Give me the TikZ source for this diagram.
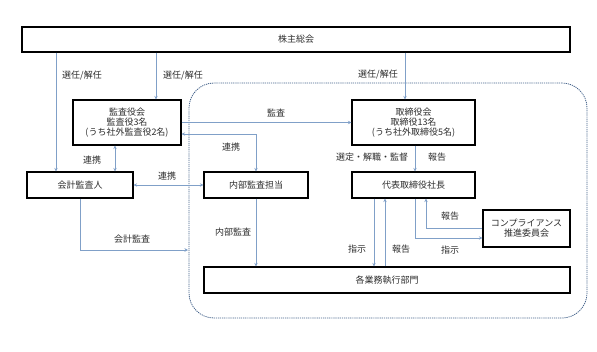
\documentclass[tikz,border=0pt]{standalone}
\usepackage{fontspec}
\setmainfont{Noto Sans CJK JP}
\usetikzlibrary{positioning,arrows.meta}
\definecolor{linkblue}{RGB}{128,160,200}
\definecolor{zoneblue}{RGB}{70,100,140}
\definecolor{inkgray}{RGB}{45,45,45}
\tikzset{
  orgbox/.style={rectangle,draw=black,line width=1.1pt,fill=white,align=center,inner sep=0pt,text=inkgray,font=\fontsize{9}{10}\selectfont},
  zone/.style={rectangle,rounded corners=25pt,draw=zoneblue,line width=0.8pt,dash pattern=on 1.2pt off 0.9pt,minimum width=398pt,minimum height=235pt},
  link/.style={-{Stealth[length=3.5pt,width=3.5pt]},draw=linkblue,line width=0.75pt},
  mutual/.style={{Stealth[length=3.5pt,width=3.5pt]}-{Stealth[length=3.5pt,width=3.5pt]},draw=linkblue,line width=0.75pt},
  lbl/.style={inner sep=1pt,text=inkgray,font=\fontsize{9}{10}\selectfont}
}
\begin{document}
\begin{tikzpicture}[x=1pt,y=-1pt]
  \path[fill=white] (0,0) rectangle (597,351);
  \useasboundingbox (0,0) rectangle (597,351);
  \node[zone] (zone) at (388,200.5) {};
  \node[orgbox,minimum width=548pt,minimum height=25pt] (soukai) at (296,39.5) {株主総会};
  \node[orgbox,minimum width=108pt,minimum height=45pt] (kansayaku) at (127,122.5) {監査役会\\監査役3名\\(うち社外監査役2名)};
  \node[orgbox,minimum width=106pt,minimum height=26pt] (kaikei) at (80,185) {会計監査人};
  \node[orgbox,minimum width=104pt,minimum height=26pt] (naibu) at (256,185) {内部監査担当};
  \node[orgbox,minimum width=123pt,minimum height=45pt] (torishimari) at (413.5,122.5) {取締役会\\取締役13名\\(うち社外取締役5名)};
  \node[orgbox,minimum width=123pt,minimum height=26pt] (shacho) at (413.5,185) {代表取締役社長};
  \node[orgbox,minimum width=87pt,minimum height=37pt] (comp) at (526.5,228.5) {コンプライアンス\\推進委員会};
  \node[orgbox,minimum width=366pt,minimum height=26pt] (bumon) at (387,280) {各業務執行部門};
  \coordinate (audit) at (188,250);
  \draw[link] ([xshift=-24pt]kaikei.north |- soukai.south) -- ([xshift=-24pt]kaikei.north);
  \draw[link] ([xshift=29pt]kansayaku.north |- soukai.south) -- ([xshift=29pt]kansayaku.north);
  \draw[link] ([xshift=-8.5pt]torishimari.north |- soukai.south) -- ([xshift=-8.5pt]torishimari.north);
  \draw[link] (kansayaku.east) -- (torishimari.west);
  \draw[mutual] ([yshift=-11.5pt]kansayaku.east) -| (naibu.north);
  \draw[mutual] ([xshift=-12pt]kansayaku.south) -- ([xshift=-12pt]kansayaku.south |- kaikei.north);
  \draw[mutual] (kaikei.east) -- (naibu.west);
  \draw[link] (kaikei.south) |- (audit);
  \draw[link] (naibu.south) -- (naibu.south |- bumon.north);
  \draw[link] ([xshift=1.5pt]torishimari.south) -- ([xshift=1.5pt]shacho.north);
  \draw[link] ([xshift=-39.5pt]shacho.south) -- ([xshift=-39.5pt]shacho.south |- bumon.north);
  \draw[link] ([xshift=-28.5pt]shacho.south |- bumon.north) -- ([xshift=-28.5pt]shacho.south);
  \draw[link] ([xshift=1.5pt]shacho.south) |- ([yshift=-9.5pt]comp.west);
  \draw[link] (comp.west) -| ([xshift=12.5pt]shacho.south);
  \node[lbl] (sennin1) at (82,76) {選任/解任};
  \node[lbl] (sennin2) at (183,76) {選任/解任};
  \node[lbl] (sennin3) at (378,75) {選任/解任};
  \node[lbl] (kansa) at (276,113) {監査};
  \node[lbl] (renkei1) at (231,147) {連携};
  \node[lbl] (renkei2) at (92,160) {連携};
  \node[lbl] (renkei3) at (167,176) {連携};
  \node[lbl] (kaikeikansa) at (132,239) {会計監査};
  \node[lbl] (naibukansa) at (233,232) {内部監査};
  \node[lbl] (sentei) at (372,157) {選定・解職・監督};
  \node[lbl] (houkoku1) at (437,157) {報告};
  \node[lbl] (shiji1) at (357,249) {指示};
  \node[lbl] (houkoku2) at (401,249) {報告};
  \node[lbl] (houkoku3) at (450,216) {報告};
  \node[lbl] (shiji2) at (450,250) {指示};
\end{tikzpicture}
\end{document}
